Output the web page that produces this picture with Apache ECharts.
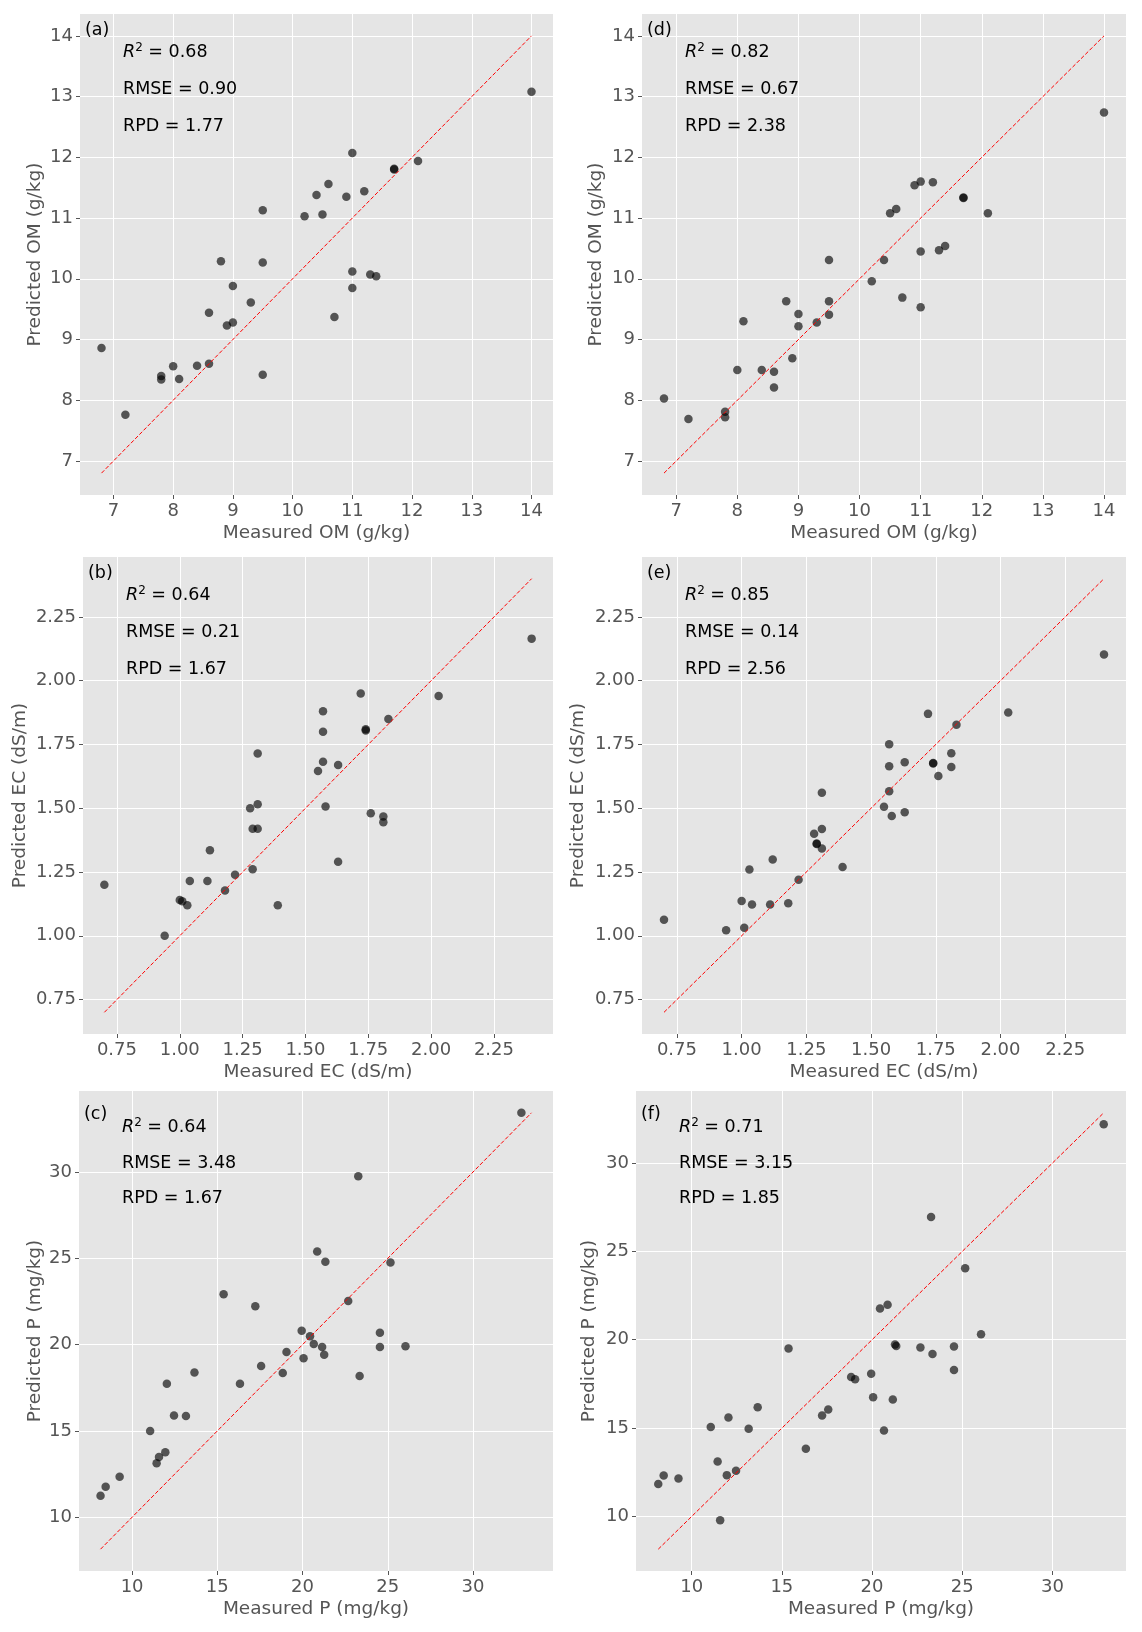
<!DOCTYPE html>
<html>
<head>
<meta charset="utf-8">
<script src="https://cdn.jsdelivr.net/npm/echarts@6/dist/echarts.min.js"></script>
<style>
  html, body { margin: 0; padding: 0; background: #fff; }
  #chart { width: 1142px; height: 1632px; }
</style>
</head>
<body>
<div id="chart"></div>
<script>
// measured values, shared by the left (a-c) and right (d-f) columns
const omMeasured = [6.8, 7.2, 7.8, 7.8, 8.0, 8.1, 8.4, 8.6, 8.6, 8.8, 8.9, 9.0, 9.0, 9.3, 9.5, 9.5, 9.5,
  10.2, 10.4, 10.5, 10.6, 10.7, 10.9, 11.0, 11.0, 11.0, 11.2, 11.3, 11.4, 11.7, 11.7, 12.1, 14.0];
const omPredA = [8.86, 7.76, 8.40, 8.34, 8.56, 8.35, 8.57, 8.60, 9.44, 10.29, 9.23, 9.28, 9.88, 9.61, 11.13, 10.27, 8.42,
  11.03, 11.38, 11.06, 11.56, 9.37, 11.35, 12.07, 10.12, 9.85, 11.44, 10.07, 10.04, 11.81, 11.80, 11.94, 13.08];
const omPredD = [8.03, 7.69, 7.81, 7.72, 8.50, 9.30, 8.50, 8.47, 8.21, 9.63, 8.69, 9.42, 9.22, 9.28, 10.31, 9.63, 9.41,
  9.96, 10.31, 11.08, 11.15, 9.69, 11.54, 11.60, 10.45, 9.53, 11.59, 10.47, 10.54, 11.34, 11.33, 11.08, 12.74];

const ecMeasured = [0.70, 0.94, 1.00, 1.01, 1.03, 1.04, 1.11, 1.12, 1.18, 1.22, 1.28, 1.29, 1.29, 1.31, 1.31, 1.31, 1.39,
  1.55, 1.57, 1.57, 1.57, 1.58, 1.63, 1.63, 1.72, 1.74, 1.74, 1.76, 1.81, 1.81, 1.83, 2.03, 2.40];
const ecPredB = [1.20, 1.00, 1.14, 1.135, 1.12, 1.215, 1.215, 1.335, 1.178, 1.239, 1.50, 1.42, 1.261, 1.42, 1.516, 1.715, 1.12,
  1.646, 1.88, 1.80, 1.682, 1.507, 1.67, 1.29, 1.95, 1.81, 1.805, 1.48, 1.468, 1.445, 1.85, 1.94, 2.165];
const ecPredE = [1.063, 1.022, 1.136, 1.032, 1.26, 1.123, 1.123, 1.299, 1.128, 1.22, 1.40, 1.36, 1.362, 1.419, 1.342, 1.561, 1.27,
  1.506, 1.751, 1.665, 1.567, 1.47, 1.68, 1.484, 1.87, 1.677, 1.675, 1.626, 1.716, 1.662, 1.827, 1.875, 2.103];

const pMeasured = [8.15, 8.45, 9.27, 11.06, 11.44, 11.58, 11.95, 12.04, 12.46, 13.16, 13.66, 15.37, 16.33, 17.23, 17.57, 18.84, 19.06,
  19.95, 20.06, 20.44, 20.66, 20.86, 21.15, 21.27, 21.34, 22.68, 23.27, 23.35, 24.54, 24.54, 25.16, 26.04, 32.84];
const pPredC = [11.24, 11.76, 12.34, 15.0, 13.13, 13.49, 13.77, 17.74, 15.9, 15.86, 18.39, 22.92, 17.73, 22.23, 18.76, 18.35, 19.57,
  20.81, 19.21, 20.49, 20.04, 25.4, 19.87, 19.42, 24.8, 22.53, 29.76, 18.18, 20.69, 19.87, 24.76, 19.91, 33.43];
const pPredF = [11.84, 12.32, 12.15, 15.06, 13.11, 9.79, 12.34, 15.6, 12.59, 14.96, 16.18, 19.5, 13.83, 15.72, 16.05, 17.89, 17.77,
  18.08, 16.74, 21.77, 14.87, 21.98, 16.62, 19.73, 19.65, 19.56, 26.95, 19.19, 19.62, 18.29, 24.05, 20.31, 32.19];

const omTicks = [7, 8, 9, 10, 11, 12, 13, 14];
const ecTicks = [0.75, 1.00, 1.25, 1.50, 1.75, 2.00, 2.25];
const pTicks = [10, 15, 20, 25, 30];

const panelLabels = ["(a)", "(b)", "(c)", "(d)", "(e)", "(f)"];
const r2Values = ["0.68", "0.64", "0.64", "0.82", "0.85", "0.71"];
const rmseValues = ["0.90", "0.21", "3.48", "0.67", "0.14", "3.15"];
const rpdValues = ["1.77", "1.67", "1.67", "2.38", "2.56", "1.85"];

const FONT = "DejaVu Sans";
const GREY = "#555555";

let panels = [
  { x: omMeasured, y: omPredA, ticks: omTicks, dec: 0, xName: "Measured OM (g/kg)", yName: "Predicted OM (g/kg)",
    rect: [80, 14, 473, 481], yGap: 35, row: 0 },
  { x: ecMeasured, y: ecPredB, ticks: ecTicks, dec: 2, xName: "Measured EC (dS/m)", yName: "Predicted EC (dS/m)",
    rect: [83, 557, 470, 477], yGap: 53, row: 1 },
  { x: pMeasured, y: pPredC, ticks: pTicks, dec: 0, xName: "Measured P (mg/kg)", yName: "Predicted P (mg/kg)",
    rect: [79, 1091, 474, 480], yGap: 34, row: 2 },
  { x: omMeasured, y: omPredD, ticks: omTicks, dec: 0, xName: "Measured OM (g/kg)", yName: "Predicted OM (g/kg)",
    rect: [642, 14, 484, 481], yGap: 36, row: 0 },
  { x: ecMeasured, y: ecPredE, ticks: ecTicks, dec: 2, xName: "Measured EC (dS/m)", yName: "Predicted EC (dS/m)",
    rect: [642, 557, 484, 477], yGap: 54, row: 1 },
  { x: pMeasured, y: pPredF, ticks: pTicks, dec: 0, xName: "Measured P (mg/kg)", yName: "Predicted P (mg/kg)",
    rect: [636, 1091, 490, 480], yGap: 37, row: 2 }
];

let grids = [], xAxes = [], yAxes = [], series = [], graphics = [];

function axisBase(p, i, name, gap) {
  return {
    type: "value",
    gridIndex: i,
    name: name,
    nameLocation: "middle",
    nameGap: gap,
    nameTextStyle: { color: GREY, fontSize: 18.5, fontFamily: FONT },
    axisLine: { show: false },
    axisTick: { show: true, length: 4, lineStyle: { color: GREY, width: 1 }, customValues: p.ticks },
    axisLabel: {
      customValues: p.ticks,
      color: GREY,
      fontSize: 18,
      fontFamily: FONT,
      margin: 7,
      formatter: function (v) { return Number(v).toFixed(p.dec); }
    },
    splitLine: { show: true, lineStyle: { color: "#ffffff", width: 1 } },
    minorTick: { show: false }
  };
}

const richStyle = {
  i: { fontStyle: "italic", fontSize: 17.5, fontFamily: FONT, color: "#000", lineHeight: 20 },
  s: { fontSize: 12, fontFamily: FONT, color: "#000", verticalAlign: "top", lineHeight: 12 },
  n: { fontSize: 17.5, fontFamily: FONT, color: "#000", lineHeight: 20 }
};

function addText(x, y, txt, rich) {
  graphics.push({
    type: "text",
    x: x,
    y: y,
    silent: true,
    z: 100,
    style: {
      text: txt,
      fill: "#000",
      fontSize: 17.5,
      fontFamily: FONT,
      align: "left",
      verticalAlign: "middle",
      rich: rich ? richStyle : undefined
    }
  });
}

for (let i = 0; i < panels.length; i++) {
  let p = panels[i];
  let all = p.x.concat(p.y);
  let lo = Math.min.apply(null, all), hi = Math.max.apply(null, all);
  let pad = (hi - lo) * 0.05;

  grids.push({
    left: p.rect[0], top: p.rect[1], width: p.rect[2], height: p.rect[3],
    show: true, backgroundColor: "#e5e5e5", borderWidth: 0,
    containLabel: false, outerBoundsMode: "none"
  });

  let xa = axisBase(p, i, p.xName, 29);
  xa.min = lo - pad; xa.max = hi + pad;
  xAxes.push(xa);
  let ya = axisBase(p, i, p.yName, p.yGap);
  ya.min = lo - pad; ya.max = hi + pad;
  yAxes.push(ya);

  let pts = [];
  for (let k = 0; k < p.x.length; k++) pts.push([p.x[k], p.y[k]]);
  series.push({
    type: "scatter",
    xAxisIndex: i, yAxisIndex: i,
    data: pts,
    symbolSize: 8.5,
    itemStyle: { color: "rgba(0,0,0,0.8)", borderWidth: 0 },
    z: 2
  });
  series.push({
    type: "line",
    xAxisIndex: i, yAxisIndex: i,
    data: [[lo, lo], [hi, hi]],
    symbol: "none",
    lineStyle: { color: "#ff0000", width: 1, type: [4, 2] },
    z: 3
  });

  // annotation texts, placed from the grid corner
  let L = p.rect[0], T = p.rect[1];
  let lblDy = p.row === 2 ? 23 : 16;
  let d = p.row === 2 ? [36, 72, 107] : [38, 75, 112];
  addText(L + 5, T + lblDy, panelLabels[i], false);
  addText(L + 43, T + d[0], "{i|R}{s|2}{n| = " + r2Values[i] + "}", true);
  addText(L + 43, T + d[1], "RMSE = " + rmseValues[i], false);
  addText(L + 43, T + d[2], "RPD = " + rpdValues[i], false);
}

let myChart = echarts.init(document.getElementById("chart"), null, { renderer: "canvas" });
let option = {
  backgroundColor: "#ffffff",
  animation: false,
  grid: grids,
  xAxis: xAxes,
  yAxis: yAxes,
  series: series,
  graphic: graphics
};
myChart.setOption(option);
</script>
</body>
</html>
